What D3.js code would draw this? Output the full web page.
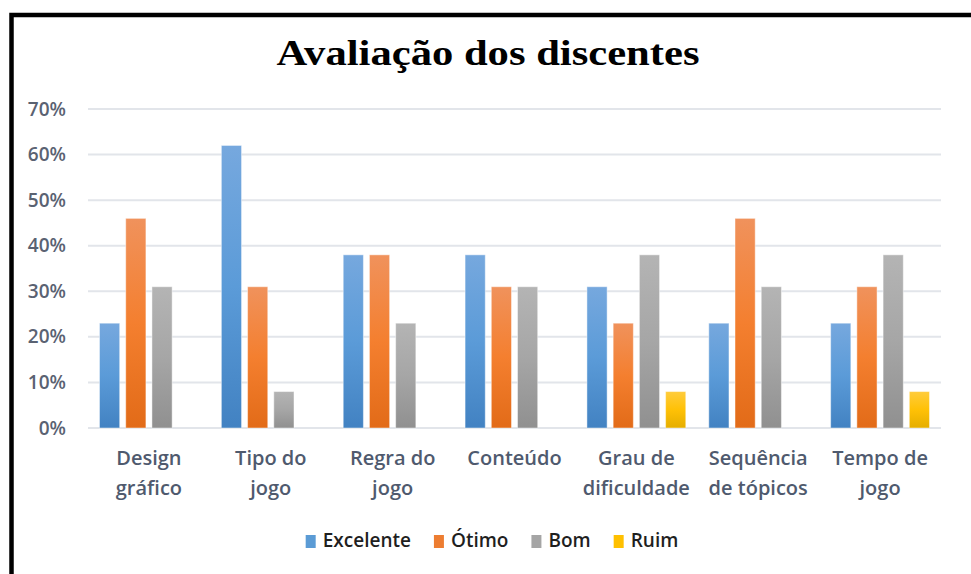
<!DOCTYPE html>
<html>
<head>
    <meta charset="utf-8">
    <title>Avaliação dos discentes</title>
    <script src="https://d3js.org/d3.v7.min.js"></script>
    <style>
        html, body { margin: 0; padding: 0; background: #fff; }
        svg { display: block; }
    </style>
</head>
<body>

    <div id="chart"></div>

    <script>

        // data
        var categories = ["Design\ngráfico", "Tipo do\njogo", "Regra do\njogo", "Conteúdo",
            "Grau de\ndificuldade", "Sequência\nde tópicos", "Tempo de\njogo"];
        var seriesNames = ["Excelente", "Ótimo", "Bom", "Ruim"];
        var excelente = [0.23, 0.62, 0.38, 0.38, 0.31, 0.23, 0.23];
        var otimo = [0.46, 0.31, 0.38, 0.31, 0.23, 0.46, 0.31];
        var bom = [0.31, 0.08, 0.23, 0.31, 0.38, 0.31, 0.38];
        var ruim = [null, null, null, null, 0.08, null, 0.08];
        var yTicks = [0, 0.1, 0.2, 0.3, 0.4, 0.5, 0.6, 0.7];

        var values = [excelente, otimo, bom, ruim];

        // gradient stops per series: top, middle, bottom
        var colors = [
            ["#76a8de", "#5b9bd8", "#4282c2"],
            ["#f0925c", "#f47f2f", "#e26b18"],
            ["#b4b4b4", "#a6a6a6", "#909090"],
            ["#ffcc3c", "#ffc106", "#e5ae00"]
        ];
        var swatch = ["#5b9bd5", "#ed7d31", "#a5a5a5", "#ffc000"];

        var W = 971, H = 574;
        var plot = { left: 88, right: 941, top: 109, bottom: 428 };
        var txtFont = "'Open Sans', 'Liberation Sans', sans-serif";

        var svg = d3.select("#chart")
            .append("svg")
            .attr("width", W)
            .attr("height", H);

        var defs = svg.append("defs");
        colors.forEach(function (c, i) {
            var g = defs.append("linearGradient")
                .attr("id", "grad" + i)
                .attr("x1", 0).attr("y1", 0)
                .attr("x2", 0).attr("y2", 1);
            g.append("stop").attr("offset", "0%").attr("stop-color", c[0]);
            g.append("stop").attr("offset", "50%").attr("stop-color", c[1]);
            g.append("stop").attr("offset", "100%").attr("stop-color", c[2]);
        });

        // black frame (runs off right and bottom)
        svg.append("rect")
            .attr("x", 11.5)
            .attr("y", 15)
            .attr("width", W + 20)
            .attr("height", H + 20)
            .attr("fill", "none")
            .attr("stroke", "#000")
            .attr("stroke-width", 4.5);

        // title
        svg.append("text")
            .attr("x", 488)
            .attr("y", 65)
            .attr("text-anchor", "middle")
            .attr("font-family", "'Liberation Serif', 'Times New Roman', serif")
            .attr("font-weight", "bold")
            .attr("font-size", 36)
            .attr("textLength", 423)
            .attr("lengthAdjust", "spacingAndGlyphs")
            .attr("fill", "#000")
            .text("Avaliação dos discentes");

        // scales
        var x0 = d3.scaleBand()
            .domain(categories)
            .range([plot.left, plot.right])
            .padding(0);

        var x1 = d3.scaleBand()
            .domain(seriesNames)
            .range([11.5, x0.bandwidth() - 11.5])
            .paddingInner(0.23);

        var y = d3.scaleLinear()
            .domain([0, 0.7])
            .range([plot.bottom, plot.top]);

        // gridlines
        svg.append("g")
            .selectAll("line")
            .data(yTicks)
            .enter()
            .append("line")
            .attr("x1", plot.left)
            .attr("x2", plot.right)
            .attr("y1", function (d) { return y(d); })
            .attr("y2", function (d) { return y(d); })
            .attr("stroke", "#e2e5ea")
            .attr("stroke-width", 2);

        // y axis labels
        var yAxis = svg.append("g")
            .attr("transform", "translate(" + (plot.left - 14) + ",0)")
            .call(d3.axisLeft(y).tickValues(yTicks).tickFormat(d3.format(".0%")).tickSize(0).tickPadding(8));
        yAxis.select(".domain").remove();
        yAxis.selectAll("text")
            .attr("font-family", txtFont)
            .attr("font-size", 19)
            .attr("font-weight", 600)
            .attr("fill", "#5a6272");

        // bars
        var groups = svg.append("g")
            .selectAll("g")
            .data(categories)
            .enter()
            .append("g")
            .attr("transform", function (d) { return "translate(" + x0(d) + ",0)"; });

        groups.selectAll("rect")
            .data(function (d, ci) {
                return seriesNames.map(function (s, si) {
                    return { series: s, si: si, value: values[si][ci] };
                }).filter(function (e) { return e.value != null; });
            })
            .enter()
            .append("rect")
            .attr("x", function (d) { return x1(d.series); })
            .attr("y", function (d) { return y(d.value); })
            .attr("width", x1.bandwidth())
            .attr("height", function (d) { return y(0) - y(d.value); })
            .attr("fill", function (d) { return "url(#grad" + d.si + ")"; })
            .attr("stroke", "rgba(255,255,255,0.45)")
            .attr("stroke-width", 1);

        // category labels (two lines)
        var catLabels = svg.append("g")
            .selectAll("text")
            .data(categories)
            .enter()
            .append("text")
            .attr("x", function (d) { return x0(d) + x0.bandwidth() / 2; })
            .attr("y", 465)
            .attr("text-anchor", "middle")
            .attr("font-family", txtFont)
            .attr("font-size", 20)
            .attr("font-weight", 600)
            .attr("fill", "#4f5a6e");

        catLabels.selectAll("tspan")
            .data(function (d) { return d.split("\n"); })
            .enter()
            .append("tspan")
            .attr("x", function () { return d3.select(this.parentNode).attr("x"); })
            .attr("dy", function (d, i) { return i === 0 ? 0 : 30; })
            .text(function (d) { return d; });

        // legend
        var legend = svg.append("g");
        var items = legend.selectAll("g")
            .data(seriesNames)
            .enter()
            .append("g");

        items.append("rect")
            .attr("x", 0)
            .attr("y", 535)
            .attr("width", 10)
            .attr("height", 13)
            .attr("fill", function (d, i) { return swatch[i]; });

        items.append("text")
            .attr("x", 17)
            .attr("y", 547)
            .attr("font-family", txtFont)
            .attr("font-weight", 600)
            .attr("font-size", 19)
            .attr("fill", "#1f1f1f")
            .text(function (d) { return d; });

        var pos = 0, offsets = [];
        items.each(function () {
            offsets.push(pos);
            pos += 17 + this.querySelector("text").getComputedTextLength() + 23;
        });
        var total = pos - 23;
        var start = 492 - total / 2;
        items.attr("transform", function (d, i) { return "translate(" + (start + offsets[i]) + ",0)"; });

    </script>

</body>
</html>
